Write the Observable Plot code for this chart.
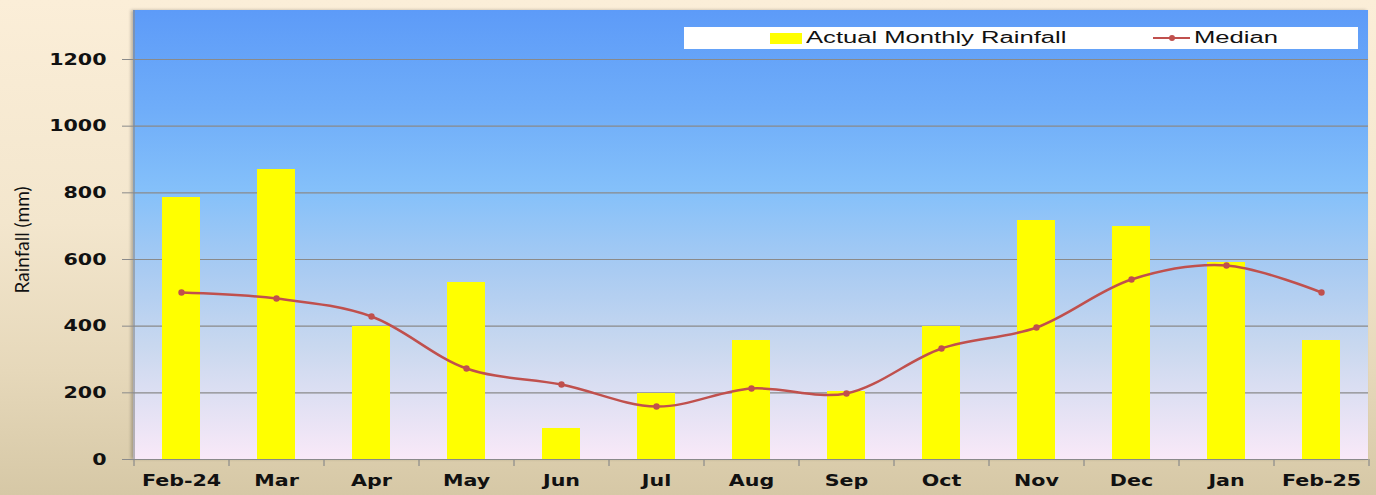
<!DOCTYPE html>
<html>
<head>
<meta charset="utf-8">
<script src="https://cdn.jsdelivr.net/npm/d3@7"></script>
<script src="https://cdn.jsdelivr.net/npm/@observablehq/plot@0.6"></script>
<style>
  html, body { margin: 0; padding: 0; }
  body { width: 1376px; height: 495px; overflow: hidden;
    background: linear-gradient(to bottom, #fbeed8 0%, #f3e6cd 45%, #e6d8ba 75%, #d6c8a6 100%); }
  #wrap { position: relative; width: 1376px; height: 495px; }
  #plotbg { position: absolute; left: 133px; top: 10px; width: 1235px; height: 449px;
    background: linear-gradient(to bottom, #5d9bf8 0%, #6fadf9 22%, #84c0fa 40%, #a9cbf2 58%, #c9d8ef 75%, #f9e9f8 100%);
    box-shadow: -2px 0 3px rgba(0,0,0,0.25); }
  #chart { position: absolute; left: 0; top: 0; }
  #legend { position: absolute; left: 684px; top: 27px; width: 674px; height: 22px; background: #ffffff; }
  .lg-text { position: absolute; top: 1px; font-family: "Liberation Sans", Arial, sans-serif; font-size: 16px;
    line-height: 20px; color: #111; transform: scaleX(1.6); transform-origin: left center; white-space: nowrap; }
</style>
</head>
<body>
<div id="wrap">
  <div id="plotbg"></div>
  <div id="chart"></div>
  <div id="legend">
    <div style="position:absolute;left:86px;top:6px;width:32px;height:11px;background:#ffff00"></div>
    <div class="lg-text" style="left:122px">Actual Monthly Rainfall</div>
    <div style="position:absolute;left:469px;top:10px;width:37px;height:2px;background:#c0504d"></div>
    <div style="position:absolute;left:485px;top:8px;width:6px;height:6px;border-radius:50%;background:#c0504d"></div>
    <div class="lg-text" style="left:510px">Median</div>
  </div>
</div>
<script>
const months = ["Feb-24","Mar","Apr","May","Jun","Jul","Aug","Sep","Oct","Nov","Dec","Jan","Feb-25"];
const actual = [786, 870, 399, 531, 93, 198, 357, 204, 399, 717, 699, 591, 357];
const median = [501, 483, 429, 273, 225, 159, 213, 198, 333, 396, 540, 582, 501];
const yTicks = [0, 200, 400, 600, 800, 1000, 1200];

const data = months.map((m, i) => ({month: m, actual: actual[i], median: median[i]}));

const W = 1376, H = 495, ML = 133, MR = 8, MT = 10, MB = 36;
const step = (W - ML - MR) / months.length;
const gray = "#8a8a8a";
const tickFont = "'DejaVu Sans', Verdana, sans-serif";

const chart = Plot.plot({
  width: W, height: H,
  marginLeft: ML, marginRight: MR, marginTop: MT, marginBottom: MB,
  style: {background: "transparent", overflow: "visible"},
  x: {domain: months, paddingInner: 0.6, paddingOuter: 0.3},
  y: {domain: [0, 1347]},
  marks: [
    Plot.ruleY(yTicks.filter(d => d > 0), {stroke: gray, strokeWidth: 1.2}),
    Plot.barY(data, {x: "month", y: "actual", fill: "#ffff00"}),
    Plot.line(data, {x: "month", y: "median", stroke: "#c0504d", strokeWidth: 2.5, curve: "catmull-rom"}),
    Plot.dot(data, {x: "month", y: "median", r: 3.2, fill: "#c0504d", stroke: null}),
    Plot.ruleY([0], {stroke: gray, strokeWidth: 1.2}),
    // left axis line
    Plot.ruleX([months[0]], {x: d => d, dx: -step / 2, stroke: gray, strokeWidth: 1.2, insetBottom: -7}),
    // category boundary ticks
    Plot.ruleX(months.slice(1), {x: d => d, dx: -step / 2, y1: 0, y2: 0, insetBottom: -7, stroke: gray, strokeWidth: 1.2}),
    Plot.ruleX([months[months.length - 1]], {x: d => d, dx: step / 2, y1: 0, y2: 0, insetBottom: -7, stroke: gray, strokeWidth: 1.2}),
    Plot.axisY({ticks: yTicks, tickFormat: d => String(d), tickSize: 11, tickPadding: 16, stroke: gray, fill: "#111",
      fontSize: 16.5, fontWeight: "bold", fontFamily: tickFont, label: null}),
    Plot.axisX({tickSize: 0, tickPadding: 15, fill: "#111",
      fontSize: 16.5, fontWeight: "bold", fontFamily: tickFont, label: null}),
    Plot.text(["Rainfall (mm)"], {frameAnchor: "left", textAnchor: "middle", dx: -111, dy: 5, rotate: -90,
      text: d => d, fontFamily: "Lato, 'Liberation Sans Narrow', sans-serif",
      fontSize: 19, fill: "#111"})
  ]
});
document.getElementById("chart").appendChild(chart);

// Stretch tick labels horizontally to match the reference's wide lettering
chart.querySelectorAll("text").forEach(t => {
  if (t.textContent.startsWith("Rainfall")) return;
  const tr = t.getAttribute("transform");
  if (tr && tr.includes("translate")) {
    t.setAttribute("transform", tr + " scale(1.25,1)");
  } else {
    const x = +(t.getAttribute("x") || 0);
    t.setAttribute("transform", `translate(${x},0) scale(1.25,1) translate(${-x},0)` + (tr ? " " + tr : ""));
  }
});
</script>
</body>
</html>
